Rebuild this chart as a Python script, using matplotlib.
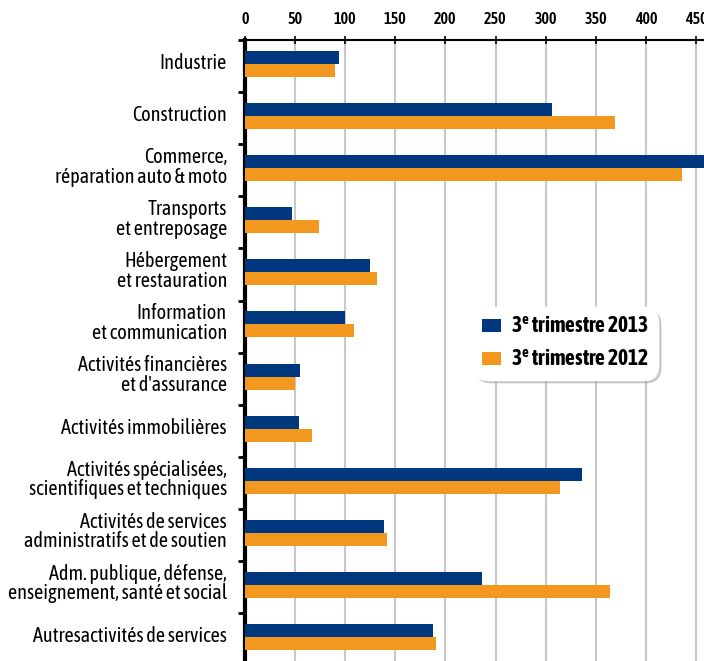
import numpy as np
import matplotlib
matplotlib.use("Agg")
import matplotlib.pyplot as plt
from matplotlib.ticker import FixedLocator

categories = [
    "Industrie",
    "Construction",
    "Commerce,\nréparation auto & moto",
    "Transports\net entreposage",
    "Hébergement\net restauration",
    "Information\net communication",
    "Activités financières\net d'assurance",
    "Activités immobilières",
    "Activités spécialisées,\nscientifiques et techniques",
    "Activités de services\nadministratifs et de soutien",
    "Adm. publique, défense,\nenseignement, santé et social",
    "Autresactivités de services",
]
t3_2013 = [94, 306, 462, 47, 125, 100, 55, 54, 336, 139, 236, 188]
t3_2012 = [90, 369, 436, 74, 132, 109, 50, 67, 314, 142, 364, 191]
series_labels = ["3$^{\\mathrm{e}}$ trimestre 2013", "3$^{\\mathrm{e}}$ trimestre 2012"]
x_ticks = [0, 50, 100, 150, 200, 250, 300, 350, 400, 450]

navy = "#003880"
orange = "#f3981f"

plt.rcParams["font.family"] = ["Asap Condensed", "DejaVu Sans"]
plt.rcParams["mathtext.fontset"] = "custom"
plt.rcParams["mathtext.rm"] = "Asap Condensed:bold"

fig = plt.figure(figsize=(7.04, 6.61), dpi=100)
ax = fig.add_axes([245 / 704, 0, 1 - 245 / 704, 1 - 40 / 661])

y = np.arange(len(categories))
h = 0.25
ax.barh(y - h / 2 - 0.04, t3_2013, height=h, color=navy, label=series_labels[0], zorder=3)
ax.barh(y + h / 2 - 0.04, t3_2012, height=h, color=orange, label=series_labels[1], zorder=3)

ax.set_xlim(0, 458)
ax.set_ylim((661 - 40) / 52.1 - 0.5, -0.5)

ax.xaxis.tick_top()
ax.set_xticks(x_ticks)
ax.tick_params(axis="x", direction="inout", length=6, width=1.2, pad=6, labelsize=11.5)
for lab in ax.get_xticklabels():
    lab.set_fontweight("semibold")
ax.grid(axis="x", color="#c8c8c8", linewidth=1.5, zorder=0)

# labels sit a little above the middle of each pair
ax.set_yticks(y - 0.1)
ax.set_yticklabels(categories, fontsize=14.6, linespacing=0.97)
ax.tick_params(axis="y", which="major", length=0, pad=13)
ax.yaxis.set_minor_locator(FixedLocator(np.arange(-0.5, len(categories), 1.0)))
ax.tick_params(axis="y", which="minor", length=5, width=2, direction="out")

ax.spines["left"].set_linewidth(3)
ax.spines["top"].set_linewidth(1.5)
ax.spines["right"].set_visible(False)
ax.spines["bottom"].set_visible(False)

leg = ax.legend(loc="upper left", bbox_to_anchor=(473 / 704, 1 - 307 / 661),
                bbox_transform=fig.transFigure, prop={"weight": "bold", "size": 15.5},
                frameon=True, fancybox=True, shadow={"color": "#999999", "alpha": 0.45},
                handlelength=0.9, handleheight=0.55, handletextpad=0.45,
                borderpad=0.42, labelspacing=0.5, borderaxespad=0)
leg.get_frame().set_edgecolor("white")
leg.get_frame().set_boxstyle("round,pad=0,rounding_size=0.7")
leg.set_zorder(5)

fig.savefig("out.png", dpi=100)
